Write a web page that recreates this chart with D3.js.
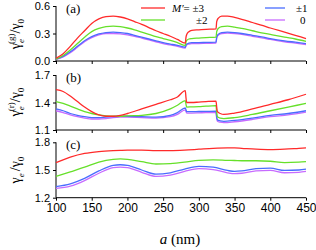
<!DOCTYPE html>
<html><head><meta charset="utf-8">
<script src="https://cdn.jsdelivr.net/npm/d3@7"></script>
<style>body{margin:0;background:#fff}svg{display:block}</style>
</head><body><svg id="c" width="316" height="250"></svg>
<script>
// ---- data ----
const xTicks = [100,150,200,250,300,350,400,450];
const seriesNames = ["M′= ±3","±2","±1","0"];
const colors = ["#ff2a2a","#66e02a","#4a6cff","#c76bff"];

// panel (a) gamma_e^(g)/gamma_0
const aX = [100,110,120,130,140,150,160,170,180,190,200,210,220,230,240,250,260,270,281,282,283,286,290,300,310,324,325,327,332,340,350,360,375,390,400,420,435,450];
const aRed    = [0.03,0.08,0.16,0.25,0.33,0.41,0.46,0.485,0.49,0.48,0.46,0.43,0.40,0.365,0.33,0.30,0.27,0.235,0.195,0.26,0.29,0.32,0.335,0.34,0.345,0.35,0.43,0.465,0.49,0.49,0.475,0.455,0.42,0.385,0.36,0.315,0.28,0.245];
const aGreen  = [0.02,0.06,0.12,0.19,0.26,0.32,0.355,0.375,0.38,0.375,0.36,0.34,0.315,0.29,0.265,0.245,0.225,0.20,0.17,0.21,0.225,0.24,0.245,0.25,0.255,0.26,0.32,0.355,0.375,0.38,0.37,0.355,0.33,0.305,0.29,0.26,0.24,0.215];
const aBlue   = [0.02,0.05,0.10,0.16,0.22,0.265,0.295,0.31,0.315,0.31,0.30,0.28,0.26,0.24,0.22,0.20,0.185,0.17,0.15,0.175,0.185,0.195,0.20,0.20,0.203,0.205,0.26,0.29,0.31,0.315,0.31,0.30,0.28,0.26,0.245,0.22,0.205,0.19];
const aPurple = [0.015,0.045,0.09,0.15,0.21,0.255,0.285,0.30,0.30,0.295,0.285,0.27,0.25,0.23,0.21,0.19,0.175,0.16,0.14,0.165,0.175,0.185,0.19,0.19,0.193,0.195,0.25,0.28,0.30,0.305,0.30,0.29,0.27,0.25,0.235,0.21,0.195,0.18];

// panel (b) gamma_e^(r)/gamma_0
const bX = [100,110,120,130,140,150,160,170,180,190,200,220,240,260,270,281,282,283,290,300,310,324,325,326,330,335,350,375,400,425,450];
const bRed    = [1.54,1.52,1.47,1.41,1.35,1.30,1.265,1.25,1.25,1.26,1.28,1.33,1.38,1.43,1.46,1.53,1.45,1.40,1.40,1.405,1.41,1.415,1.35,1.30,1.28,1.27,1.285,1.33,1.38,1.43,1.49];
const bGreen  = [1.41,1.39,1.36,1.33,1.30,1.28,1.265,1.255,1.25,1.25,1.255,1.26,1.28,1.33,1.37,1.42,1.38,1.35,1.352,1.355,1.36,1.365,1.29,1.245,1.23,1.225,1.235,1.27,1.31,1.35,1.39];
const bBlue   = [1.33,1.31,1.28,1.26,1.245,1.235,1.235,1.24,1.245,1.25,1.25,1.245,1.24,1.26,1.29,1.34,1.32,1.30,1.30,1.302,1.303,1.305,1.24,1.21,1.20,1.195,1.205,1.23,1.26,1.28,1.31];
const bPurple = [1.31,1.29,1.265,1.245,1.23,1.22,1.22,1.225,1.235,1.24,1.24,1.235,1.23,1.245,1.27,1.32,1.30,1.285,1.285,1.287,1.29,1.29,1.225,1.195,1.185,1.18,1.19,1.215,1.245,1.265,1.295];

// panel (c) gamma_e/gamma_0
const cX = [100,120,140,160,180,190,200,220,240,260,280,300,320,340,350,360,380,400,420,440,450];
const cRed    = [1.58,1.64,1.68,1.70,1.71,1.713,1.715,1.715,1.71,1.71,1.715,1.725,1.735,1.74,1.74,1.735,1.725,1.72,1.725,1.735,1.74];
const cGreen  = [1.43,1.48,1.53,1.585,1.615,1.62,1.615,1.59,1.565,1.57,1.585,1.605,1.61,1.605,1.603,1.60,1.60,1.595,1.58,1.585,1.59];
const cBlue   = [1.32,1.35,1.41,1.49,1.55,1.557,1.55,1.50,1.455,1.47,1.51,1.54,1.53,1.495,1.485,1.49,1.515,1.52,1.495,1.50,1.51];
const cPurple = [1.30,1.325,1.385,1.465,1.525,1.532,1.525,1.475,1.43,1.445,1.485,1.515,1.505,1.47,1.46,1.465,1.49,1.495,1.47,1.475,1.485];

const yTicksA = [0.0,0.3,0.6], yTicksB = [1.1,1.4,1.7], yTicksC = [1.2,1.5,1.8];

// ---- drawing ----
const svg = d3.select("#c");
const x = d3.scaleLinear().domain([100,450]).range([56,306]);
const panels = [
  {xs:aX, ys:[aRed,aGreen,aBlue,aPurple], dom:[0,0.6], rng:[61,6], ticks:yTicksA, fmt:d3.format(".1f"), lab:"(a)", sup:"(g)", cy:34},
  {xs:bX, ys:[bRed,bGreen,bBlue,bPurple], dom:[1.1,1.7], rng:[130,75], ticks:yTicksB, fmt:d3.format(".1f"), lab:"(b)", sup:"(r)", cy:102},
  {xs:cX, ys:[cRed,cGreen,cBlue,cPurple], dom:[1.2,1.8], rng:[197.7,142.3], ticks:yTicksC, fmt:d3.format(".1f"), lab:"(c)", sup:null, cy:170}
];
panels.forEach((p,pi)=>{
  const y = d3.scaleLinear().domain(p.dom).range(p.rng);
  const g = svg.append("g");
  const ya = g.append("g").attr("transform","translate(56,0)")
    .call(d3.axisLeft(y).tickValues(p.ticks).tickFormat(p.fmt).tickSize(3).tickPadding(3));
  const xa = g.append("g").attr("transform",`translate(0,${p.rng[0]})`)
    .call(d3.axisBottom(x).tickValues(xTicks).tickSize(3).tickPadding(3).tickFormat(pi===2?d3.format("d"):""));
  [ya,xa].forEach(a=>{
    a.select(".domain").attr("stroke","#000").attr("stroke-width",1);
    a.selectAll(".tick line").attr("stroke","#000");
    a.selectAll("text").attr("font-family","Liberation Sans, Arial, sans-serif").attr("font-size",12).attr("fill","#000");
  });
  ya.selectAll("text").attr("font-size",11);
  ya.select(".domain").attr("d",`M-0,${p.rng[0]}V${p.rng[1]}`);
  xa.select(".domain").attr("d",`M56,0H306`);
  const line = d3.line().x((d,i)=>x(p.xs[i])).y(d=>y(d)).curve(d3.curveMonotoneX);
  p.ys.slice().reverse().forEach((s,k)=>{
    const ci = 3-k;
    g.append("path").attr("d",line(s)).attr("fill","none").attr("stroke",colors[ci]).attr("stroke-width",1.3);
  });
  g.append("text").attr("x",66).attr("y",p.rng[1]+7).attr("font-family","Liberation Serif, Times New Roman, serif")
    .attr("font-size",13).text(p.lab);
  // y label
  const t = g.append("text").attr("transform",`translate(20,${p.cy}) rotate(-90)`).attr("text-anchor","middle")
    .attr("font-family","Liberation Serif, Times New Roman, serif").attr("font-size",14);
  t.append("tspan").text("γ");
  t.append("tspan").attr("font-size",9).attr("font-style","italic").attr("dy",4).text("e");
  if(p.sup){ t.append("tspan").attr("font-size",9).attr("dx",-5).attr("dy",-10).text(p.sup); t.append("tspan").attr("dy",6).text("/γ"); }
  else { t.append("tspan").attr("dy",-4).attr("dx",2).text("/γ"); }
  t.append("tspan").attr("font-size",9).attr("dy",4).text("0");
});

// legend
const leg = [
  {x1:141,x2:165,y:8,tx:172,label:"M′= ±3",ci:0},
  {x1:141,x2:165,y:20,tx:196,label:"±2",ci:1},
  {x1:265,x2:285,y:8,tx:296,label:"±1",ci:2},
  {x1:265,x2:285,y:20,tx:300,label:"0",ci:3}
];
leg.forEach(l=>{
  svg.append("line").attr("x1",l.x1).attr("x2",l.x2).attr("y1",l.y).attr("y2",l.y).attr("stroke",colors[l.ci]).attr("stroke-width",1.3);
  const t = svg.append("text").attr("x",l.tx).attr("y",l.y+4).attr("font-family","Liberation Serif, Times New Roman, serif").attr("font-size",11);
  if(l.ci===0){ t.append("tspan").attr("font-style","italic").text("M′"); t.append("tspan").text("=  ±3"); }
  else t.text(l.label);
});

// x axis title
const xt = svg.append("text").attr("x",180).attr("y",244).attr("text-anchor","middle")
  .attr("font-family","Liberation Serif, Times New Roman, serif").attr("font-size",15);
xt.append("tspan").attr("font-style","italic").text("a");
xt.append("tspan").text(" (nm)");
</script></body></html>
